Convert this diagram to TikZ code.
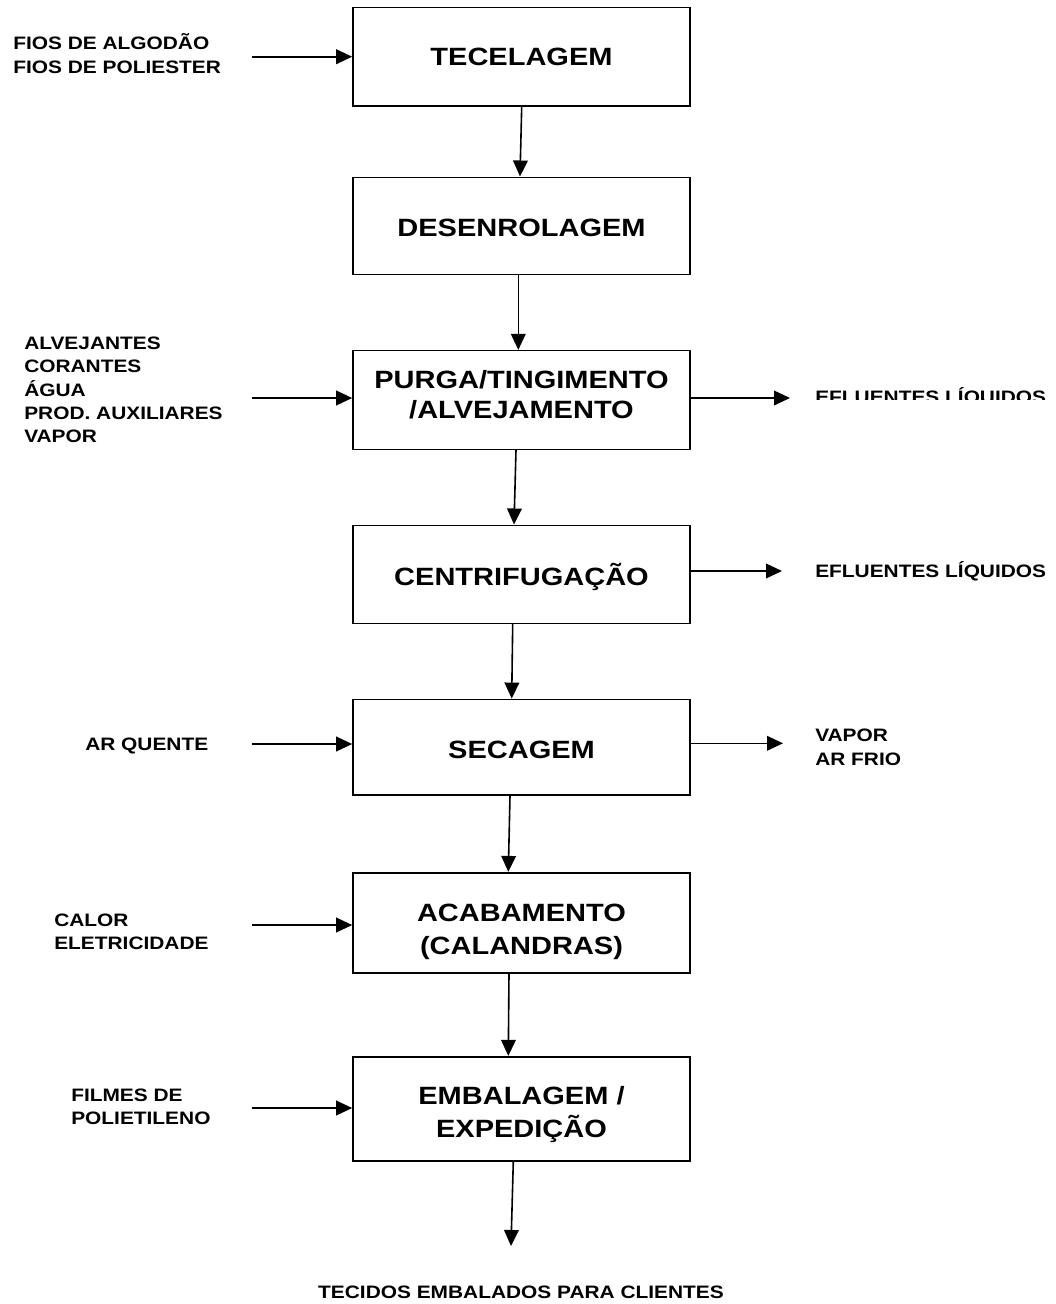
\documentclass[tikz,border=0pt]{standalone}
\usepackage{fontspec}
\setmainfont{Liberation Sans}[FakeStretch=1.16]
\usetikzlibrary{arrows.meta,calc}
\newcommand{\toph}[1]{\rule{0pt}{#1}}
\newcommand{\botd}[1]{\rule[-#1]{0pt}{#1}}
\tikzset{
  stage/.style={draw, line width=1.2pt, minimum width=252.75pt, inner sep=0pt, align=center,
    font=\fontsize{18.75}{25}\selectfont\bfseries},
  flow/.style={line width=1.2pt, -{Triangle[length=12pt,width=11pt]}},
  lbl/.style={inner sep=0pt, align=left, anchor=west, font=\fontsize{13.5}{17.5}\selectfont\bfseries},
}
\begin{document}
\begin{tikzpicture}[x=0.75pt,y=-0.75pt]
\useasboundingbox[fill=white] (0,0) rectangle (1056,1304);
% stages
\node[stage, minimum height=74pt] (T) at (521.5,56.7) {\toph{18.8pt}\botd{5pt}TECELAGEM};
\node[stage, minimum height=72.75pt] (D) at (521.5,225.8) {\toph{21pt}\botd{5pt}DESENROLAGEM};
\node[stage, minimum height=74pt, font=\fontsize{18.75}{22.5}\selectfont\bfseries] (P) at (521.5,400) {\toph{15pt}PURGA/TINGIMENTO\\/ALVEJAMENTO\botd{10.3pt}};
\node[stage, minimum height=73.5pt] (C) at (521.5,574.3) {\toph{22.4pt}\botd{5pt}CENTRIFUGAÇÃO};
\node[stage, minimum height=71.75pt] (S) at (521.5,747.2) {\toph{22.6pt}\botd{5pt}SECAGEM};
\node[stage, minimum height=75pt] (A) at (521.5,922.7) {\toph{27.8pt}ACABAMENTO\\(CALANDRAS)\botd{5pt}};
\node[stage, minimum height=78pt] (E) at (521.5,1108.7) {\toph{23.2pt}EMBALAGEM /\\EXPEDIÇÃO\botd{5pt}};
% vertical flow
\draw[flow] ($(T.south)+(0.2,0)$) -- ($(D.north)+(-1.5,0)$);
\draw[flow] ($(D.south)+(-3.2,0)$) -- ($(P.north)+(-3.2,0)$);
\draw[flow] ($(P.south)+(-5.5,0)$) -- ($(C.north)+(-7.5,0)$);
\draw[flow] ($(C.south)+(-8.8,0)$) -- ($(S.north)+(-9.8,0)$);
\draw[flow] ($(S.south)+(-11.5,0)$) -- ($(A.north)+(-13.2,0)$);
\draw[flow] ($(A.south)+(-12.5,0)$) -- ($(E.north)+(-13.2,0)$);
\coordinate (out) at (511,1246);
\draw[flow] ($(E.south)+(-8.2,0)$) -- (out);
% inputs
\node[lbl] (inT) at (13,53.5) {FIOS DE ALGODÃO\\FIOS DE POLIESTER};
\node[lbl] (inP) at (24,390) {ALVEJANTES\\CORANTES\\ÁGUA\\PROD. AUXILIARES\\VAPOR};
\node[lbl] (inS) at (85,746) {AR QUENTE};
\node[lbl] (inA) at (54,931.5) {CALOR\\ELETRICIDADE};
\node[lbl] (inE) at (71,1107) {FILMES DE\\POLIETILENO};
\coordinate (iT) at (252,56.7);
\coordinate (iP) at (252,398);
\coordinate (iS) at (252,744);
\coordinate (iA) at (252,925);
\coordinate (iE) at (252,1108);
\draw[flow] (iT) -- (iT -| T.west);
\draw[flow] (iP) -- (iP -| P.west);
\draw[flow] (iS) -- (iS -| S.west);
\draw[flow] (iA) -- (iA -| A.west);
\draw[flow] (iE) -- (iE -| E.west);
% outputs
\coordinate (oP) at (790,398);
\coordinate (oC) at (782,571);
\coordinate (oS) at (783,743.3);
\draw[flow] (oP -| P.east) -- (oP);
\draw[flow] (oC -| C.east) -- (oC);
\draw[flow] (oS -| S.east) -- (oS);
\begin{scope}
\clip (800,370) rectangle (1056,399.5);
\node[lbl] (outP) at (815,397.3) {EFLUENTES LÍQUIDOS};
\end{scope}
\node[lbl] (outC) at (815,571.7) {EFLUENTES LÍQUIDOS};
\node[lbl] (outS) at (815,747.3) {VAPOR\\AR FRIO};
\node[inner sep=0pt, font=\fontsize{13.5}{17.5}\selectfont\bfseries] (final) at (521,1292.5) {TECIDOS EMBALADOS PARA CLIENTES};
\end{tikzpicture}
\end{document}
